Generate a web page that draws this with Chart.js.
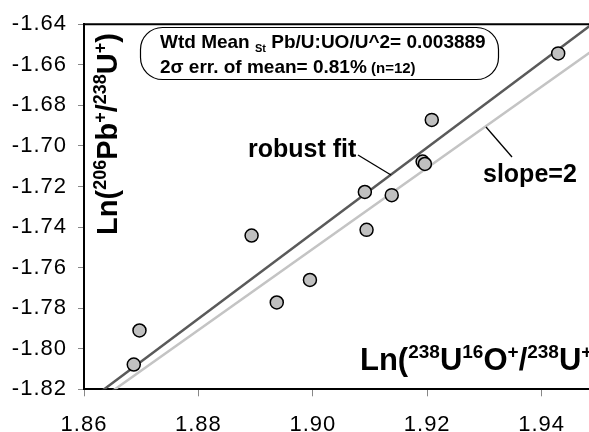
<!DOCTYPE html>
<html><head><meta charset="utf-8">
<script src="https://cdn.jsdelivr.net/npm/chart.js@4/dist/chart.umd.min.js"></script>
<style>
html,body{margin:0;padding:0;overflow:hidden;background:#fff;width:589px;height:432px}
canvas{display:block}
</style>
</head><body>
<canvas id="c" width="700" height="470"></canvas>
<script>
// ---- data ----
const xTickLabels = ['1.86','1.88','1.90','1.92','1.94','1.96'];
const yTickLabels = ['-1.82','-1.80','-1.78','-1.76','-1.74','-1.72','-1.70','-1.68','-1.66','-1.64'];
const spotX = [1.8687, 1.8697, 1.8893, 1.8937, 1.8995, 1.9091, 1.9094, 1.9138, 1.9192, 1.9196, 1.9208, 1.9429];
const spotY = [-1.8078, -1.7910, -1.7442, -1.7772, -1.7661, -1.7227, -1.7414, -1.7243, -1.7077, -1.7089, -1.6872, -1.6544];
const robustFitX = [1.86, 1.96];
const robustFitY = [-1.8274, -1.6164];
const slope2X = [1.86, 1.96];
const slope2Y = [-1.8308, -1.6308];
const statText1 = ['Wtd Mean ', 'St', ' Pb/U:UO/U^2= 0.003889'];
const statText2 = ['2\u03c3 err. of mean= 0.81%', ' (n=12)'];
const yTitle = ['Ln(', '206', 'Pb', '+', '/', '238', 'U', '+', ')'];
const xTitle = ['Ln(', '238', 'U', '16', 'O', '+', '/', '238', 'U', '+', ')'];

const FONT = '"Liberation Sans", Arial, sans-serif';
const toPts = (xs, ys) => xs.map((x, i) => ({x: x, y: ys[i]}));

function runsWidth(ctx, runs) {
  let w = 0;
  for (const r of runs) { ctx.font = 'bold ' + r.s + 'px ' + FONT; w += ctx.measureText(r.t).width; }
  return w;
}
function drawRuns(ctx, runs) {
  let cx = 0;
  for (const r of runs) {
    ctx.font = 'bold ' + r.s + 'px ' + FONT;
    ctx.fillText(r.t, cx, r.dy || 0);
    cx += ctx.measureText(r.t).width;
  }
}
function titleRuns(parts, big, small, raise) {
  return parts.map(t => (/^[0-9+]+$/.test(t)) ? {t: t, s: small, dy: -raise} : {t: t, s: big});
}

const decor = {
  id: 'decor',
  beforeDraw(chart) { chart.ctx.letterSpacing = '1px'; },
  beforeDatasetsDraw(chart) {
    const {ctx, chartArea: a} = chart;
    ctx.save();
    ctx.strokeStyle = '#000'; ctx.lineWidth = 2;
    ctx.beginPath(); ctx.moveTo(a.left - 1, a.top); ctx.lineTo(a.right, a.top); ctx.lineTo(a.right, a.bottom); ctx.stroke();
    ctx.restore();
  },
  afterDatasetsDraw(chart) {
    const ctx = chart.ctx;
    ctx.save();
    ctx.letterSpacing = '0px';
    ctx.fillStyle = '#000';
    ctx.textBaseline = 'alphabetic';
    ctx.textAlign = 'left';
    // stats box
    ctx.beginPath();
    ctx.roundRect(140.5, 27.5, 358, 52, 22);
    ctx.fillStyle = '#fff'; ctx.fill();
    ctx.strokeStyle = '#000'; ctx.lineWidth = 1.2; ctx.stroke();
    ctx.fillStyle = '#000';
    ctx.save(); ctx.translate(160, 48);
    drawRuns(ctx, [{t: statText1[0], s: 19}, {t: statText1[1], s: 11, dy: 4}, {t: statText1[2], s: 19}]);
    ctx.restore();
    ctx.save(); ctx.translate(160, 73);
    drawRuns(ctx, [{t: statText2[0], s: 19}, {t: statText2[1], s: 15}]);
    ctx.restore();
    // labels
    ctx.font = 'bold 25px ' + FONT;
    ctx.fillText('robust fit', 248, 157);
    ctx.fillText('slope=2', 483, 182);
    ctx.strokeStyle = '#000'; ctx.lineWidth = 1.3;
    ctx.beginPath(); ctx.moveTo(358, 155); ctx.lineTo(391, 175); ctx.stroke();
    ctx.beginPath(); ctx.moveTo(486, 127); ctx.lineTo(512, 157); ctx.stroke();
    // y title
    const yr = titleRuns(yTitle, 29, 18, 11);
    const yw = runsWidth(ctx, yr);
    ctx.save(); ctx.translate(117, 134 + yw / 2); ctx.rotate(-Math.PI / 2);
    drawRuns(ctx, yr);
    ctx.restore();
    // x title
    const xr = titleRuns(xTitle, 31, 19, 12);
    ctx.save(); ctx.translate(360, 370);
    drawRuns(ctx, xr);
    ctx.restore();
    ctx.restore();
  }
};

new Chart(document.getElementById('c'), {
  type: 'scatter',
  data: {
    datasets: [
      { label: 'spots', data: toPts(spotX, spotY), backgroundColor: '#c0c0c0', borderColor: '#000',
        borderWidth: 1.5, pointRadius: 6.5, order: 0 },
      { label: 'robust fit', data: toPts(robustFitX, robustFitY), showLine: true, borderColor: '#5a5a5a',
        borderWidth: 2.5, pointRadius: 0, order: 2 },
      { label: 'slope=2', data: toPts(slope2X, slope2Y), showLine: true, borderColor: '#c4c4c4',
        borderWidth: 2.5, pointRadius: 0, order: 1 }
    ]
  },
  options: {
    responsive: false, animation: false, devicePixelRatio: 1,
    layout: { padding: { top: 20.6, right: 44, left: 0, bottom: 0 } },
    plugins: { legend: { display: false }, tooltip: { enabled: false } },
    scales: {
      x: {
        type: 'linear', min: +xTickLabels[0], max: +xTickLabels[xTickLabels.length - 1],
        ticks: { stepSize: 0.02, callback: (v, i) => xTickLabels[i], color: '#000',
                 font: { family: FONT, size: 22 }, padding: 15, maxRotation: 0 },
        grid: { drawOnChartArea: false, tickLength: 7, tickColor: '#888', tickWidth: 1 },
        border: { color: '#000', width: 2 },
        afterFit: s => { s.height = 470 - 389.3; }
      },
      y: {
        type: 'linear', min: +yTickLabels[0], max: +yTickLabels[yTickLabels.length - 1],
        ticks: { stepSize: 0.02, callback: (v, i) => yTickLabels[i], color: '#000',
                 font: { family: FONT, size: 22 }, padding: 11 },
        grid: { drawOnChartArea: false, tickLength: 6, tickColor: '#888', tickWidth: 1 },
        border: { color: '#000', width: 2 },
        afterFit: s => { s.width = 84; }
      }
    }
  },
  plugins: [decor]
});
</script>
</body></html>
